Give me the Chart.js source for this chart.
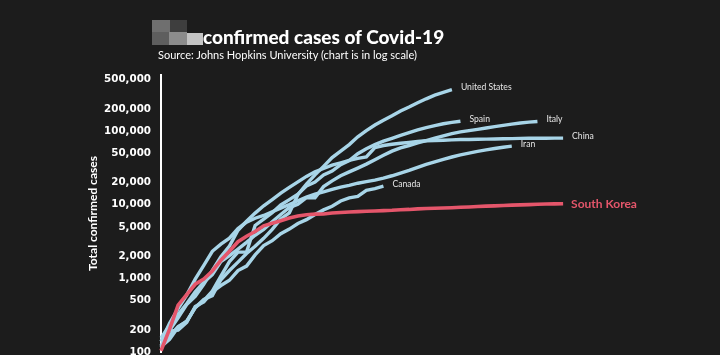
<!DOCTYPE html>
<html><head><meta charset="utf-8">
<script src="https://cdn.jsdelivr.net/npm/chart.js@4"></script>
<style>
html,body{margin:0;padding:0;background:#1c1c1c;overflow:hidden}
#wrap{position:relative;width:720px;height:355px;background:#1c1c1c}
canvas{position:absolute;left:0;top:0}
.t{position:absolute;color:#fff;font-family:Lato,"Open Sans",sans-serif;white-space:nowrap;line-height:normal}
.b{position:absolute}
</style></head><body>
<div id="wrap">
<canvas id="c" width="720" height="355"></canvas>
<div class="b" style="left:152px;top:20px;width:18px;height:12px;background:#6f6f6f"></div>
<div class="b" style="left:170px;top:20px;width:17px;height:12px;background:#3e3e3e"></div>
<div class="b" style="left:152px;top:32px;width:17px;height:13px;background:#5e5e5e"></div>
<div class="b" style="left:169px;top:32px;width:18px;height:13px;background:#8c8c8c"></div>
<div class="b" style="left:187px;top:33px;width:16px;height:12px;background:#c4c4c4"></div>
<div class="t" style="left:203px;top:25px;font-size:19px;font-weight:900">confirmed cases of Covid-19</div>
<div class="t" style="left:158px;top:48px;font-size:11px;font-weight:400">Source: Johns Hopkins University (chart is in log scale)</div>
</div>
<script>
// Days since 100th confirmed case (index = day), cumulative confirmed cases
const countryNames = ["United States","Spain","Italy","China","Iran","Canada","South Korea"];
const usCases = [118,149,217,262,402,518,583,959,1281,1663,2179,2726,3499,4632,6421,7786,13680,19101,25493,33276,43847,53740,65778,83836,101657,121465,140909,161831,188172,213242,243622,275367,308650,336802,366317];
const spainCases = [120,165,222,259,400,500,673,1073,1695,2277,2277,5232,6391,7798,9942,11748,13910,17963,20410,25374,28768,35136,39885,49515,57786,65719,73235,80110,87956,95923,104118,112065,119199,126168,131646,136675];
const italyCases = [155,229,322,453,655,888,1128,1694,2036,2502,3089,3858,4636,5883,7375,9172,10149,12462,12462,17660,21157,24747,27980,31506,35713,41035,47021,53578,59138,63927,69176,74386,80589,86498,92472,97689,101739,105792,110574,115242,119827,124632,128948,132547,135586];
const chinaCases = [121,198,291,440,571,830,1287,1975,2744,4515,5974,7711,9692,11791,14380,17205,20438,24324,28018,31161,34546,37198,40171,42638,44653,59804,63851,66492,68500,70548,72436,74185,74576,75465,76288,76936,77150,77658,78064,78497,78824,79251,79824,80026,80151,80270,80409,80552];
const iranCases = [139,245,388,593,978,1501,2336,2922,3513,4747,5823,6566,7161,8042,9000,10075,11364,12729,13938,14991,16169,17361,18407,19644,20610,21638,23049,24811,27017,29406,32332,35408,38309,41495,44605,47593,50468,53183,55743,58226,60500,62589];
const canadaCases = [117,193,198,252,415,478,657,800,943,1277,1469,2088,2790,3251,4042,4682,5576,6280,7398,8527,9560,11284,12437,12978,15756,16563,17872];
const southKoreaCases = [104,204,433,602,833,977,1261,1766,2337,3150,3736,4335,5186,5621,6088,6593,7041,7314,7478,7513,7755,7869,7979,8086,8162,8236,8320,8413,8565,8652,8799,8897,8961,9037,9137,9241,9332,9478,9583,9661,9786,9887,9976,10062,10156,10237,10284,10331];
const yTickValues = [100,200,500,1000,2000,5000,10000,20000,50000,100000,200000,500000];

const BLUE = "#a8d5e8", RED = "#e5566b";
const seriesList = [usCases, spainCases, italyCases, chinaCases, iranCases, canadaCases, southKoreaCases];
const toPts = arr => arr.map((v, i) => ({x: i, y: v}));

const datasets = seriesList.map((arr, k) => {
  const isKorea = countryNames[k] === "South Korea";
  return {
    label: countryNames[k],
    data: toPts(arr),
    borderColor: isKorea ? RED : BLUE,
    borderWidth: isKorea ? 3.6 : 3.4,
    pointRadius: 0,
    tension: 0,
    fill: false,
    clip: false,
    order: isKorea ? 0 : 1
  };
});

const endLabels = {
  id: "endLabels",
  afterDatasetsDraw(chart) {
    const ctx = chart.ctx;
    ctx.save();
    ctx.textBaseline = "middle";
    ctx.textAlign = "left";
    chart.data.datasets.forEach((ds, i) => {
      const meta = chart.getDatasetMeta(i);
      const p = meta.data[meta.data.length - 1];
      if (ds.label === "South Korea") {
        ctx.font = "bold 12px Lato, sans-serif";
        ctx.fillStyle = RED;
        ctx.fillText(ds.label, p.x + 8, p.y);
      } else {
        ctx.font = "8.6px Lato, sans-serif";
        ctx.fillStyle = "#e6e6e6";
        ctx.fillText(ds.label, p.x + 9, p.y - 2);
      }
    });
    ctx.restore();
  }
};

new Chart(document.getElementById("c"), {
  type: "line",
  data: { datasets },
  options: {
    responsive: false,
    animation: false,
    devicePixelRatio: 1,
    layout: { padding: { left: 82, right: 97, top: 75, bottom: 3 } },
    plugins: { legend: { display: false }, tooltip: { enabled: false } },
    scales: {
      x: { type: "linear", min: 0, max: 54, display: false },
      y: {
        type: "logarithmic",
        min: 100,
        max: 580000,
        afterFit(s) { s.width = 79; s.paddingTop = 0; s.paddingBottom = 0; },
        afterBuildTicks(s) { s.ticks = yTickValues.map(v => ({ value: v })); },
        grid: { display: false },
        border: { display: true, color: "#ffffff", width: 2 },
        ticks: {
          color: "#ffffff",
          padding: 2,
          font: { family: "'DejaVu Sans'", weight: "bold", size: 10.3 },
          callback: v => Number(v).toLocaleString("en-US")
        },
        title: {
          display: true,
          text: "Total confirmed cases",
          color: "#ffffff",
          font: { family: "Lato", weight: "bold", size: 12 }
        }
      }
    }
  },
  plugins: [endLabels]
});
</script>
</body></html>
